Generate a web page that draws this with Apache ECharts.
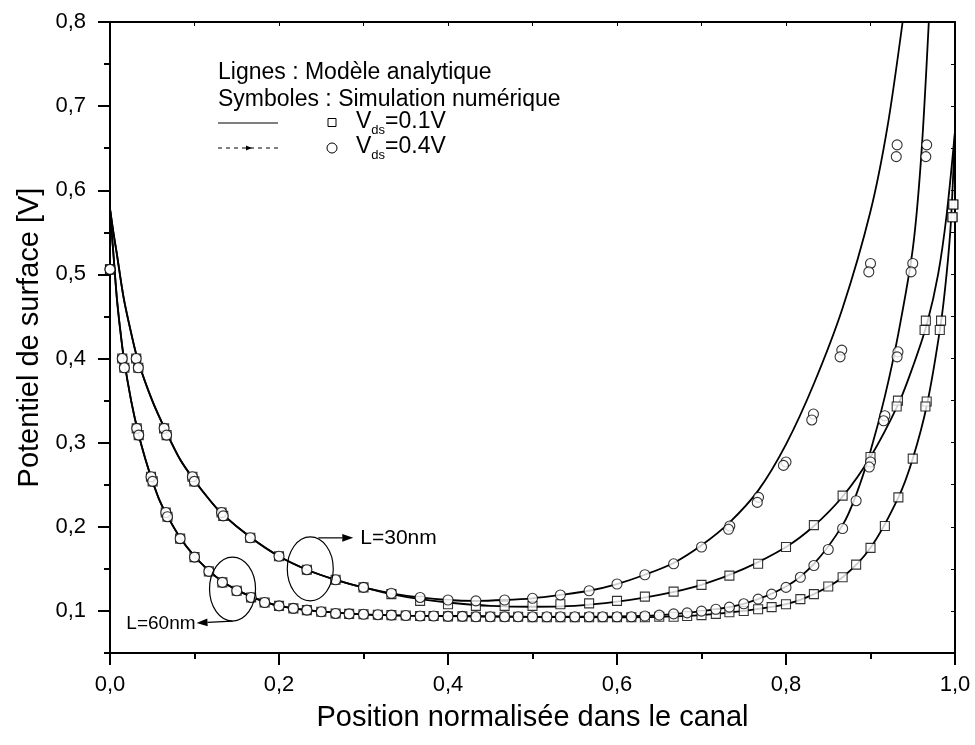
<!DOCTYPE html>
<html>
<head>
<meta charset="utf-8">
<script src="https://cdn.jsdelivr.net/npm/echarts@6/dist/echarts.min.js"></script>
<style>
  html, body { margin: 0; padding: 0; background: #fff; }
  #chart { width: 975px; height: 745px; }
</style>
</head>
<body>
<div id="chart"></div>
<script>
// Axis ticks
const xTicks = [0, 0.2, 0.4, 0.6, 0.8, 1.0];
const yTicks = [0.1, 0.2, 0.3, 0.4, 0.5, 0.6, 0.7, 0.8];
const yMinorTicks = [0.05, 0.15, 0.25, 0.35, 0.45, 0.55, 0.65, 0.75];
const yFrameTicks = [0.05, 0.1, 0.15, 0.2, 0.25, 0.3, 0.35, 0.4, 0.45, 0.5, 0.55, 0.6, 0.65, 0.7, 0.75, 0.8];

// Analytical model, L = 30 nm
const model30Vds01X = [0, 0.004, 0.008, 0.016, 0.024, 0.033, 0.05, 0.067, 0.083, 0.1, 0.117, 0.133, 0.167, 0.2, 0.233, 0.267, 0.3, 0.333, 0.367, 0.4, 0.45, 0.5, 0.55, 0.6, 0.65, 0.7, 0.75, 0.8, 0.833, 0.867, 0.9, 0.933, 0.95, 0.967, 0.98, 0.99, 1.0];
const model30Vds01Y = [0.578, 0.55, 0.525, 0.473, 0.435, 0.398, 0.35, 0.312, 0.28, 0.255, 0.233, 0.215, 0.187, 0.165, 0.149, 0.137, 0.128, 0.120, 0.114, 0.110, 0.106, 0.105, 0.106, 0.111, 0.119, 0.131, 0.150, 0.176, 0.201, 0.236, 0.283, 0.346, 0.39, 0.442, 0.5, 0.57, 0.67];
const model30Vds04X = [0, 0.004, 0.008, 0.016, 0.024, 0.033, 0.05, 0.067, 0.083, 0.1, 0.117, 0.133, 0.167, 0.2, 0.233, 0.267, 0.3, 0.333, 0.367, 0.4, 0.433, 0.467, 0.5, 0.533, 0.567, 0.6, 0.633, 0.667, 0.7, 0.733, 0.767, 0.8, 0.833, 0.867, 0.9, 0.92, 0.938];
const model30Vds04Y = [0.578, 0.55, 0.525, 0.473, 0.435, 0.398, 0.35, 0.312, 0.28, 0.255, 0.233, 0.215, 0.187, 0.165, 0.149, 0.137, 0.128, 0.121, 0.116, 0.113, 0.112, 0.113, 0.115, 0.119, 0.124, 0.132, 0.143, 0.157, 0.178, 0.205, 0.243, 0.298, 0.37, 0.46, 0.575, 0.675, 0.80];

// Analytical model, L = 60 nm
const model60Vds01X = [0, 0.002, 0.004, 0.008, 0.012, 0.0167, 0.025, 0.0333, 0.042, 0.05, 0.058, 0.0667, 0.083, 0.1, 0.117, 0.133, 0.15, 0.167, 0.183, 0.2, 0.233, 0.267, 0.3, 0.35, 0.4, 0.5, 0.6, 0.65, 0.7, 0.75, 0.8, 0.833, 0.867, 0.9, 0.933, 0.95, 0.967, 0.983, 0.99, 0.995, 1.0];
const model60Vds01Y = [0.578, 0.55, 0.525, 0.473, 0.435, 0.398, 0.35, 0.312, 0.28, 0.255, 0.233, 0.215, 0.187, 0.165, 0.148, 0.135, 0.125, 0.117, 0.111, 0.106, 0.101, 0.098, 0.096, 0.0945, 0.094, 0.093, 0.0925, 0.093, 0.095, 0.100, 0.108, 0.120, 0.140, 0.175, 0.235, 0.281, 0.346, 0.44, 0.5, 0.56, 0.67];
const model60Vds04X = [0, 0.002, 0.004, 0.008, 0.012, 0.0167, 0.025, 0.0333, 0.042, 0.05, 0.058, 0.0667, 0.083, 0.1, 0.117, 0.133, 0.15, 0.167, 0.183, 0.2, 0.233, 0.267, 0.3, 0.35, 0.4, 0.5, 0.6, 0.65, 0.7, 0.75, 0.8, 0.833, 0.867, 0.883, 0.9, 0.917, 0.933, 0.95, 0.96, 0.969];
const model60Vds04Y = [0.578, 0.55, 0.525, 0.473, 0.435, 0.398, 0.35, 0.312, 0.28, 0.255, 0.233, 0.215, 0.187, 0.165, 0.148, 0.135, 0.125, 0.117, 0.111, 0.106, 0.101, 0.098, 0.096, 0.0945, 0.094, 0.093, 0.0935, 0.095, 0.0998, 0.1085, 0.129, 0.156, 0.202, 0.238, 0.29, 0.355, 0.43, 0.53, 0.64, 0.8];

// Numerical simulation, L = 30 nm
const sim30Vds01 = [[0, 0.506], [0.031, 0.400], [0.0335, 0.389], [0.064, 0.317], [0.067, 0.309], [0.0975, 0.2595], [0.0998, 0.254], [0.132, 0.217], [0.134, 0.213], [0.166, 0.187], [0.2, 0.165], [0.233, 0.149], [0.267, 0.137], [0.3, 0.128], [0.333, 0.120], [0.367, 0.112], [0.4, 0.108], [0.433, 0.106], [0.467, 0.106], [0.5, 0.106], [0.533, 0.108], [0.567, 0.109], [0.6, 0.112], [0.633, 0.117], [0.667, 0.123], [0.7, 0.131], [0.733, 0.142], [0.767, 0.156], [0.8, 0.176], [0.833, 0.202], [0.867, 0.237], [0.9, 0.283], [0.9325, 0.350], [0.931, 0.343], [0.9655, 0.445], [0.964, 0.434], [0.998, 0.583], [0.997, 0.568]];
const sim30Vds04 = [[0, 0.506], [0.031, 0.400], [0.0335, 0.389], [0.064, 0.317], [0.067, 0.309], [0.0975, 0.2595], [0.0998, 0.254], [0.132, 0.217], [0.134, 0.213], [0.166, 0.187], [0.2, 0.165], [0.233, 0.149], [0.267, 0.137], [0.3, 0.128], [0.333, 0.121], [0.367, 0.116], [0.4, 0.113], [0.433, 0.112], [0.467, 0.113], [0.5, 0.115], [0.533, 0.119], [0.567, 0.124], [0.6, 0.132], [0.633, 0.143], [0.667, 0.156], [0.7, 0.176], [0.7335, 0.201], [0.732, 0.197], [0.7675, 0.235], [0.766, 0.229], [0.8, 0.277], [0.797, 0.273], [0.8325, 0.334], [0.8305, 0.327], [0.866, 0.410], [0.864, 0.402], [0.9, 0.513], [0.898, 0.503], [0.9315, 0.654], [0.9305, 0.640]];

// Numerical simulation, L = 60 nm
const sim60Vds01 = [[0, 0.506], [0.0145, 0.400], [0.017, 0.389], [0.0316, 0.317], [0.034, 0.309], [0.0485, 0.2595], [0.0505, 0.254], [0.066, 0.217], [0.068, 0.212], [0.083, 0.186], [0.1, 0.164], [0.117, 0.147], [0.133, 0.134], [0.15, 0.124], [0.167, 0.116], [0.183, 0.110], [0.2, 0.106], [0.217, 0.103], [0.233, 0.101], [0.25, 0.099], [0.267, 0.097], [0.283, 0.0965], [0.3, 0.096], [0.317, 0.0955], [0.333, 0.095], [0.35, 0.0945], [0.367, 0.094], [0.383, 0.094], [0.4, 0.0935], [0.417, 0.0935], [0.433, 0.093], [0.45, 0.093], [0.467, 0.093], [0.483, 0.093], [0.5, 0.0925], [0.517, 0.0925], [0.533, 0.0925], [0.55, 0.0925], [0.567, 0.0925], [0.583, 0.0925], [0.6, 0.0925], [0.617, 0.0925], [0.633, 0.0925], [0.65, 0.093], [0.667, 0.093], [0.683, 0.094], [0.7, 0.095], [0.717, 0.0965], [0.733, 0.0984], [0.75, 0.100], [0.767, 0.102], [0.783, 0.1045], [0.8, 0.108], [0.817, 0.114], [0.833, 0.120], [0.85, 0.129], [0.867, 0.140], [0.883, 0.155], [0.9, 0.175], [0.917, 0.201], [0.933, 0.235], [0.95, 0.281], [0.9665, 0.349], [0.965, 0.343], [0.9835, 0.445], [0.982, 0.434], [0.998, 0.583], [0.997, 0.568]];
const sim60Vds04 = [[0, 0.506], [0.0145, 0.400], [0.017, 0.389], [0.0316, 0.317], [0.034, 0.309], [0.0485, 0.2595], [0.0505, 0.254], [0.066, 0.217], [0.068, 0.212], [0.083, 0.186], [0.1, 0.164], [0.117, 0.147], [0.133, 0.134], [0.15, 0.124], [0.167, 0.116], [0.183, 0.110], [0.2, 0.106], [0.217, 0.103], [0.233, 0.101], [0.25, 0.099], [0.267, 0.097], [0.283, 0.0965], [0.3, 0.096], [0.317, 0.0955], [0.333, 0.095], [0.35, 0.0945], [0.367, 0.094], [0.383, 0.094], [0.4, 0.0935], [0.417, 0.0935], [0.433, 0.093], [0.45, 0.093], [0.467, 0.093], [0.483, 0.093], [0.5, 0.093], [0.517, 0.093], [0.533, 0.093], [0.55, 0.093], [0.567, 0.093], [0.583, 0.093], [0.6, 0.093], [0.617, 0.093], [0.633, 0.094], [0.65, 0.095], [0.667, 0.0965], [0.683, 0.0977], [0.7, 0.0998], [0.717, 0.102], [0.733, 0.1045], [0.75, 0.1085], [0.767, 0.114], [0.783, 0.120], [0.8, 0.128], [0.817, 0.140], [0.833, 0.154], [0.85, 0.173], [0.867, 0.198], [0.883, 0.231], [0.9, 0.277], [0.8985, 0.271], [0.917, 0.332], [0.9155, 0.326], [0.9325, 0.408], [0.9315, 0.402], [0.95, 0.513], [0.948, 0.503], [0.9665, 0.654], [0.9655, 0.640]];

// Legend and annotation text
const legendTitle = 'Lignes : Modèle analytique';
const legendSubtitle = 'Symboles : Simulation numérique';
const legendVds = ['0.1V', '0.4V'];
const annotationLabels = ['L=30nm', 'L=60nm'];

const FONT = '"Liberation Sans", Arial, Helvetica, sans-serif';
const pairs = (xs, ys) => xs.map((x, i) => [x, ys[i]]);
const fmt = v => v.toFixed(1).replace('.', ',');

const chart = echarts.init(document.getElementById('chart'), null, { renderer: 'canvas' });

function lineSeries(name, data) {
  return {
    name, type: 'line', data, xAxisIndex: 0, yAxisIndex: 0,
    smooth: 0.3, showSymbol: false, symbol: 'none',
    lineStyle: { color: '#000', width: 1.8 }, z: 2, silent: true, clip: true
  };
}
function simSeries(name, data, symbol, size) {
  return {
    name, type: 'scatter', data, xAxisIndex: 0, yAxisIndex: 0,
    symbol, symbolSize: size,
    itemStyle: { color: '#fff', borderColor: '#000', borderWidth: 1.1 },
    z: 3, silent: true, clip: true
  };
}

const option = {
  backgroundColor: '#fff',
  animation: false,
  textStyle: { fontFamily: FONT, color: '#000' },
  grid: { left: 110, right: 20, top: 22, bottom: 92, containLabel: false },
  xAxis: [
    {
      type: 'value', position: 'bottom', min: 0, max: 1, interval: 0.2,
      name: 'Position normalisée dans le canal', nameLocation: 'middle', nameGap: 50,
      nameTextStyle: { fontSize: 29, color: '#000', fontFamily: FONT },
      axisLine: { show: true, onZero: false, lineStyle: { color: '#000', width: 2 } },
      axisTick: { show: true, inside: false, length: 12, lineStyle: { color: '#000', width: 2 } },
      minorTick: { show: true, splitNumber: 2, length: 6, lineStyle: { color: '#000', width: 2 } },
      axisLabel: { show: true, margin: 21, fontSize: 22, color: '#000', fontFamily: FONT, formatter: fmt,
                   customValues: xTicks },
      splitLine: { show: false }
    },
    {
      type: 'value', position: 'top', min: 0, max: 1, interval: 0.1,
      axisLine: { show: true, onZero: false, lineStyle: { color: '#000', width: 2 } },
      axisTick: { show: true, inside: true, length: 4, lineStyle: { color: '#000', width: 1 } },
      axisLabel: { show: false }, splitLine: { show: false }
    }
  ],
  yAxis: [
    {
      type: 'value', position: 'left', min: 0.05, max: 0.8,
      name: 'Potentiel de surface [V]', nameLocation: 'middle', nameGap: 64, nameRotate: 90,
      nameTextStyle: { fontSize: 29, color: '#000', fontFamily: FONT },
      axisLine: { show: true, onZero: false, lineStyle: { color: '#000', width: 2 } },
      axisTick: { show: true, inside: false, length: 12, customValues: yTicks, lineStyle: { color: '#000', width: 2 } },
      axisLabel: { show: true, margin: 24, fontSize: 22, color: '#000', fontFamily: FONT, formatter: fmt,
                   customValues: yTicks },
      splitLine: { show: false }
    },
    {
      type: 'value', position: 'left', min: 0.05, max: 0.8,
      axisLine: { show: false },
      axisTick: { show: true, inside: false, length: 6, customValues: yMinorTicks, lineStyle: { color: '#000', width: 2 } },
      axisLabel: { show: false }, splitLine: { show: false }
    },
    {
      type: 'value', position: 'right', min: 0.05, max: 0.8,
      axisLine: { show: true, onZero: false, lineStyle: { color: '#000', width: 2 } },
      axisTick: { show: true, inside: true, length: 4, customValues: yFrameTicks, lineStyle: { color: '#000', width: 1 } },
      axisLabel: { show: false }, splitLine: { show: false }
    }
  ],
  series: [
    lineSeries('L30 Vds 0.1 modèle', pairs(model30Vds01X, model30Vds01Y)),
    lineSeries('L30 Vds 0.4 modèle', pairs(model30Vds04X, model30Vds04Y)),
    lineSeries('L60 Vds 0.1 modèle', pairs(model60Vds01X, model60Vds01Y)),
    lineSeries('L60 Vds 0.4 modèle', pairs(model60Vds04X, model60Vds04Y)),
    simSeries('L30 Vds 0.1 simulation', sim30Vds01, 'rect', 9),
    simSeries('L60 Vds 0.1 simulation', sim60Vds01, 'rect', 9),
    simSeries('L30 Vds 0.4 simulation', sim30Vds04, 'circle', 10),
    simSeries('L60 Vds 0.4 simulation', sim60Vds04, 'circle', 10)
  ]
};
chart.setOption(option);

// Legend block and annotations (ellipses with arrows), placed in data coordinates
const px = (x, y) => chart.convertToPixel({ gridIndex: 0 }, [x, y]);
function arrow(from, to, head) {
  const dx = to[0] - from[0], dy = to[1] - from[1];
  const len = Math.hypot(dx, dy), ux = dx / len, uy = dy / len;
  const bx = to[0] - ux * head, by = to[1] - uy * head;
  return [
    { type: 'line', shape: { x1: from[0], y1: from[1], x2: bx, y2: by }, style: { stroke: '#000', lineWidth: 1.2 } },
    { type: 'polygon', shape: { points: [to, [bx - uy * head * 0.35, by + ux * head * 0.35], [bx + uy * head * 0.35, by - ux * head * 0.35]] },
      style: { fill: '#000' } }
  ];
}
const textStyle = { fontSize: 23, fontFamily: FONT, fill: '#000' };
const vdsRich = v => ({
  text: '{v|V}{s|ds}{v|=' + v + '}',
  rich: { v: { fontSize: 23, fontFamily: FONT, color: '#000' },
          s: { fontSize: 13, fontFamily: FONT, color: '#000', verticalAlign: 'bottom', padding: [16, 0, 0, 0] } },
  verticalAlign: 'middle'
});

const e60 = px(0.145, 0.126), e30 = px(0.237, 0.150);
const graphics = [
  { type: 'text', x: 218, y: 73, style: Object.assign({ text: legendTitle, verticalAlign: 'middle' }, textStyle) },
  { type: 'text', x: 218, y: 100, style: Object.assign({ text: legendSubtitle, verticalAlign: 'middle' }, textStyle) },
  { type: 'line', shape: { x1: 218, y1: 123, x2: 278, y2: 123 }, style: { stroke: '#000', lineWidth: 1.2 } },
  { type: 'rect', shape: { x: 328, y: 118.5, width: 8, height: 8 }, style: { fill: '#fff', stroke: '#000', lineWidth: 1 } },
  { type: 'text', x: 356, y: 122, style: Object.assign({}, vdsRich(legendVds[0])) },
  { type: 'line', shape: { x1: 218, y1: 148, x2: 278, y2: 148 }, style: { stroke: '#000', lineWidth: 1.2, lineDash: [4, 4] } },
  { type: 'polygon', shape: { points: [[252, 148], [246, 145.5], [246, 150.5]] }, style: { fill: '#000' } },
  { type: 'circle', shape: { cx: 332, cy: 148, r: 5 }, style: { fill: '#fff', stroke: '#000', lineWidth: 1 } },
  { type: 'text', x: 356, y: 147, style: Object.assign({}, vdsRich(legendVds[1])) },
  { type: 'ellipse', shape: { cx: e60[0], cy: e60[1], rx: 23, ry: 32 }, style: { fill: 'none', stroke: '#000', lineWidth: 1.2 } },
  { type: 'ellipse', shape: { cx: e30[0], cy: e30[1], rx: 23, ry: 32 }, style: { fill: 'none', stroke: '#000', lineWidth: 1.2 } },
  ...arrow([e60[0], e60[1] + 32], [e60[0] - 36, e60[1] + 34], 11),
  ...arrow([e30[0] + 8, e30[1] - 31], [e30[0] + 43, e30[1] - 31], 11),
  { type: 'text', x: e60[0] - 37, y: e60[1] + 35, style: Object.assign({ text: annotationLabels[1], align: 'right', verticalAlign: 'middle' }, textStyle, { fontSize: 19 }) },
  { type: 'text', x: e30[0] + 50, y: e30[1] - 31, style: Object.assign({ text: annotationLabels[0], align: 'left', verticalAlign: 'middle' }, textStyle, { fontSize: 21 }) }
];
chart.setOption({ graphic: graphics.map(g => Object.assign({ silent: true, z: 10 }, g)) });
</script>
</body>
</html>
